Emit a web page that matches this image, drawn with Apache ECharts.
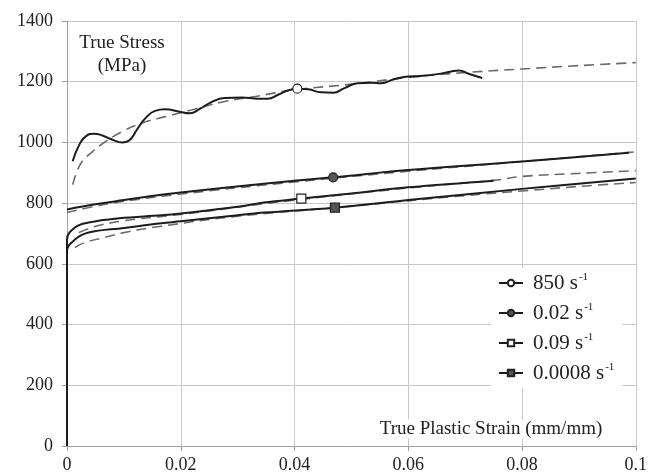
<!DOCTYPE html>
<html>
<head>
<meta charset="utf-8">
<script src="https://cdn.jsdelivr.net/npm/echarts@6/dist/echarts.min.js"></script>
<style>
html,body{margin:0;padding:0;background:#fff;}
#chart{width:650px;height:474px;}
</style>
</head>
<body>
<div id="chart"></div>
<script>
// ---- Data (strain mm/mm, true stress MPa) ----
const xTicks = [0, 0.02, 0.04, 0.06, 0.08, 0.1];
const yTicks = [0, 200, 400, 600, 800, 1000, 1200, 1400];
const legendNames = ['850 s-1', '0.02 s-1', '0.09 s-1', '0.0008 s-1'];

// 850 s^-1 experimental (wavy) curve; marker at index 22
const rate850 = [[0.001,938],[0.00215,992],[0.0033,1020],[0.0048,1029],[0.0062,1023],[0.008,1009],[0.0097,1000],[0.0109,1006],[0.0123,1042],[0.0138,1080],[0.0155,1104],[0.0173,1109],[0.0196,1102],[0.0216,1096],[0.0234,1111],[0.0254,1133],[0.0277,1146],[0.0307,1148],[0.0336,1144],[0.0353,1144],[0.0371,1157],[0.0388,1171],[0.0405,1177],[0.0424,1175],[0.0447,1165],[0.0468,1164],[0.0488,1179],[0.0511,1195],[0.0535,1197],[0.0552,1195],[0.0575,1208],[0.0599,1217],[0.0622,1219],[0.0651,1225],[0.0674,1233],[0.0689,1237],[0.0706,1226],[0.073,1212]];
const marker850 = 22;
const fit850 = [[0.001,861],[0.0024,930],[0.0045,970],[0.0068,1003],[0.0097,1036],[0.0132,1064],[0.0173,1085],[0.0219,1107],[0.0277,1135],[0.0336,1153],[0.0394,1172],[0.0506,1193],[0.0599,1214],[0.0691,1229],[0.08,1242],[0.09,1253],[0.1,1263]];

// 0.02 s^-1; marker at index 7
const rate002 = [[0,779],[0.005,796],[0.01,810],[0.0166,828],[0.02,835],[0.0346,864],[0.04,874],[0.0468,885],[0.06,909],[0.08,937],[0.0988,966]];
const marker002 = 7;
const fit002 = [[0,769],[0.005,790],[0.01,806],[0.02,830],[0.04,870],[0.06,905],[0.08,937],[0.1,969]];

// 0.09 s^-1; marker at index 9
const rate009 = [[0,0],[0,680],[0.0014,720],[0.0038,736],[0.0092,750],[0.0166,760],[0.02,766],[0.03,788],[0.0346,802],[0.0412,815],[0.05,832],[0.06,852],[0.075,874]];
const marker009 = 9;
const fit009 = [[0.0021,703],[0.0049,723],[0.01,742],[0.02,763],[0.04,810],[0.06,850],[0.075,875],[0.08,888],[0.09,898],[0.1,907]];

// 0.0008 s^-1; marker at index 9
const rate00008 = [[0,0],[0,641],[0.0014,680],[0.0038,703],[0.01,718],[0.0166,734],[0.02,740],[0.03,760],[0.0346,769],[0.0471,785],[0.06,810],[0.08,847],[0.1,881]];
const marker00008 = 9;
const fit00008 = [[0.0014,654],[0.0031,670],[0.0066,687],[0.0108,706],[0.0166,724],[0.03,757],[0.05,790],[0.07,825],[0.08,840],[0.09,855],[0.1,868]];

const SERIF = "'Liberation Serif', 'DejaVu Serif', serif";

function withMarker(points, idx) {
  return points.map((p, i) => i === idx ? { value: p } : { value: p, symbol: 'none' });
}
function solid(name, points, idx, symbol, fill, smooth) {
  return {
    name: name, type: 'line', data: withMarker(points, idx),
    smooth: smooth, symbol: symbol, symbolSize: 9, showSymbol: true, showAllSymbol: true,
    lineStyle: { color: '#1c1c1c', width: 2 },
    itemStyle: { color: fill, borderColor: '#222', borderWidth: 1.2 },
    z: 3, animation: false
  };
}
function dashed(points) {
  return {
    type: 'line', data: points, smooth: 0.4, symbol: 'none',
    lineStyle: { color: '#6a6a6a', width: 1.6, type: [10, 6] },
    z: 2, animation: false, silent: true
  };
}

const chart = echarts.init(document.getElementById('chart'), null, { renderer: 'canvas' });
chart.setOption({
  backgroundColor: '#fff',
  animation: false,
  grid: { left: 67, right: 10, top: 21, bottom: 27 },
  xAxis: {
    type: 'value', min: xTicks[0], max: xTicks[xTicks.length - 1], interval: 0.02,
    axisLine: { lineStyle: { color: '#a0a0a0', width: 1 } },
    axisTick: { show: true, length: 5, lineStyle: { color: '#a0a0a0' } },
    axisLabel: { fontFamily: SERIF, fontSize: 18, color: '#222', margin: 10,
      formatter: v => String(+v.toFixed(2)) },
    splitLine: { show: true, lineStyle: { color: '#c8c8c8', width: 1 } }
  },
  yAxis: {
    type: 'value', min: yTicks[0], max: yTicks[yTicks.length - 1], interval: 200,
    axisLine: { show: true, lineStyle: { color: '#a0a0a0', width: 1 } },
    axisTick: { show: true, length: 5, lineStyle: { color: '#a0a0a0' } },
    axisLabel: { fontFamily: SERIF, fontSize: 18, color: '#222', margin: 14,
      formatter: v => String(v) },
    splitLine: { show: true, lineStyle: { color: '#c8c8c8', width: 1 } }
  },
  legend: {
    orient: 'vertical', left: 491, top: 268,
    backgroundColor: '#fff', padding: [4, 8, 4, 7],
    itemWidth: 24, itemHeight: 8, itemGap: 8,
    data: legendNames,
    textStyle: {
      fontFamily: SERIF, fontSize: 21, color: '#222', lineHeight: 22,
      rich: {
        n: { fontFamily: SERIF, fontSize: 21, color: '#222', padding: [0, 0, 0, 5] },
        s: { fontFamily: SERIF, fontSize: 11, color: '#222', verticalAlign: 'top', padding: [0, 0, 0, 1] }
      }
    },
    formatter: name => '{n|' + name.replace(' s-1', ' s') + '}{s|-1}'
  },
  graphic: [
    { type: 'text', x: 122, y: 43, style: { text: 'True Stress', fontFamily: SERIF, fontSize: 19, fill: '#222', textAlign: 'center', textVerticalAlign: 'middle' }, z: 10 },
    { type: 'text', x: 122, y: 66, style: { text: '(MPa)', fontFamily: SERIF, fontSize: 19, fill: '#222', textAlign: 'center', textVerticalAlign: 'middle' }, z: 10 },
    { type: 'text', x: 491, y: 429, style: { text: 'True Plastic Strain (mm/mm)', fontFamily: SERIF, fontSize: 19, fill: '#222', textAlign: 'center', textVerticalAlign: 'middle', backgroundColor: '#fff' }, z: 10 }
  ],
  series: [
    dashed(fit850), dashed(fit002), dashed(fit009), dashed(fit00008),
    solid(legendNames[0], rate850, marker850, 'circle', '#fff', 0.5),
    solid(legendNames[1], rate002, marker002, 'circle', '#555', 0.4),
    solid(legendNames[2], rate009, marker009, 'rect', '#fff', 0.4),
    solid(legendNames[3], rate00008, marker00008, 'rect', '#555', 0.4)
  ]
});
</script>
</body>
</html>
